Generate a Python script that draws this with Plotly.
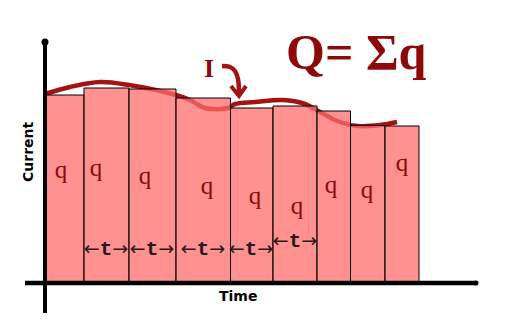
import plotly.graph_objects as go

# ---- data (time / current units; origin at the axes corner) ----
bar_edges = [0, 39, 84, 131, 185.5, 228, 272, 305.5, 340, 374]
bar_heights = [188, 195, 194, 185, 175, 177, 172, 157.5, 157]

curve_t = [0, 25, 55, 84, 131, 145, 160, 183, 190, 210, 238, 260, 275, 295, 313, 335, 352]
curve_i = [189, 196, 201, 198, 188, 183, 175, 175, 179, 181, 183, 179, 171, 161, 157, 158, 161]

q_t = [16, 51, 100, 162, 210, 252, 286, 322, 357]
q_i = [111, 113, 105, 95, 85, 75, 96, 91, 118]
q_labels = ["q"] * 9

t_t = [61, 107, 158, 206, 250]
t_i = [33, 33, 33, 33, 41]
t_mark = '←<span style="font-family:Liberation Mono;font-weight:bold;font-size:21px">t</span>→'
t_labels = [t_mark] * 5

hook_t = [177, 185, 190, 193, 194]
hook_i = [217, 216, 212, 204, 189]
head_t = [186, 194, 201]
head_i = [197, 187, 197]

centers = [(a + b) / 2 for a, b in zip(bar_edges[:-1], bar_edges[1:])]
widths = [b - a for a, b in zip(bar_edges[:-1], bar_edges[1:])]

DARK = "#a51212"
TXT = "#8c0a0a"

fig = go.Figure()

# current curve (underneath the translucent bars)
fig.add_trace(go.Scatter(x=curve_t, y=curve_i, mode="lines",
                         line=dict(color=DARK, width=4.5, shape="spline", smoothing=1.0),
                         xaxis="x", yaxis="y", hoverinfo="skip"))

# bars on the overlay axis so they sit above the curve
fig.add_trace(go.Bar(x=centers, y=bar_heights, width=widths,
                     marker=dict(color="rgba(255,108,108,0.75)", line=dict(color="black", width=1)),
                     xaxis="x", yaxis="y2", hoverinfo="skip"))

# axes lines
fig.add_trace(go.Scatter(x=[-20, 431], y=[0, 0], mode="lines",
                         line=dict(color="black", width=4.5), xaxis="x", yaxis="y2", hoverinfo="skip"))
fig.add_trace(go.Scatter(x=[431], y=[0], mode="markers",
                         marker=dict(color="black", size=5), xaxis="x", yaxis="y2", hoverinfo="skip"))
fig.add_trace(go.Scatter(x=[0, 0], y=[-30, 241], mode="lines",
                         line=dict(color="black", width=4), xaxis="x", yaxis="y2", hoverinfo="skip"))
fig.add_trace(go.Scatter(x=[0], y=[241], mode="markers",
                         marker=dict(color="black", size=7), xaxis="x", yaxis="y2", hoverinfo="skip"))

# labels
fig.add_trace(go.Scatter(x=q_t, y=q_i, mode="text", text=q_labels,
                         textfont=dict(family="Liberation Serif", size=25, color=TXT),
                         xaxis="x", yaxis="y2", hoverinfo="skip"))
fig.add_trace(go.Scatter(x=t_t, y=t_i, mode="text", text=t_labels,
                         textfont=dict(family="DejaVu Sans", size=19, color="#2a1a1a"),
                         xaxis="x", yaxis="y2", hoverinfo="skip"))

# hook arrow near I
fig.add_trace(go.Scatter(x=hook_t, y=hook_i, mode="lines",
                         line=dict(color=DARK, width=4.5, shape="spline"),
                         xaxis="x", yaxis="y2", hoverinfo="skip"))
fig.add_trace(go.Scatter(x=head_t, y=head_i, mode="lines",
                         line=dict(color=DARK, width=4),
                         xaxis="x", yaxis="y2", hoverinfo="skip"))

fig.update_layout(
    width=517, height=327, margin=dict(l=0, r=0, t=0, b=0),
    paper_bgcolor="white", plot_bgcolor="white", showlegend=False,
    xaxis=dict(range=[-45, 472], visible=False, fixedrange=True),
    yaxis=dict(range=[-44, 283], visible=False, fixedrange=True),
    yaxis2=dict(range=[-44, 283], visible=False, overlaying="y", fixedrange=True),
    annotations=[
        dict(text="<b>Q= Σq</b>", x=311, y=231, xref="x", yref="y", showarrow=False,
             font=dict(family="Liberation Serif", size=50, color=TXT)),
        dict(text="<b>I</b>", x=164, y=215, xref="x", yref="y", showarrow=False,
             font=dict(family="Liberation Serif", size=26, color=TXT)),
        dict(text="<b>Time</b>", x=193, y=-13, xref="x", yref="y", showarrow=False,
             font=dict(family="DejaVu Sans", size=14, color="black")),
        dict(text="<b>Current</b>", x=-17, y=131, xref="x", yref="y", showarrow=False,
             textangle=-90, font=dict(family="DejaVu Sans", size=14, color="black")),
    ],
)

fig.write_html("out.html")
